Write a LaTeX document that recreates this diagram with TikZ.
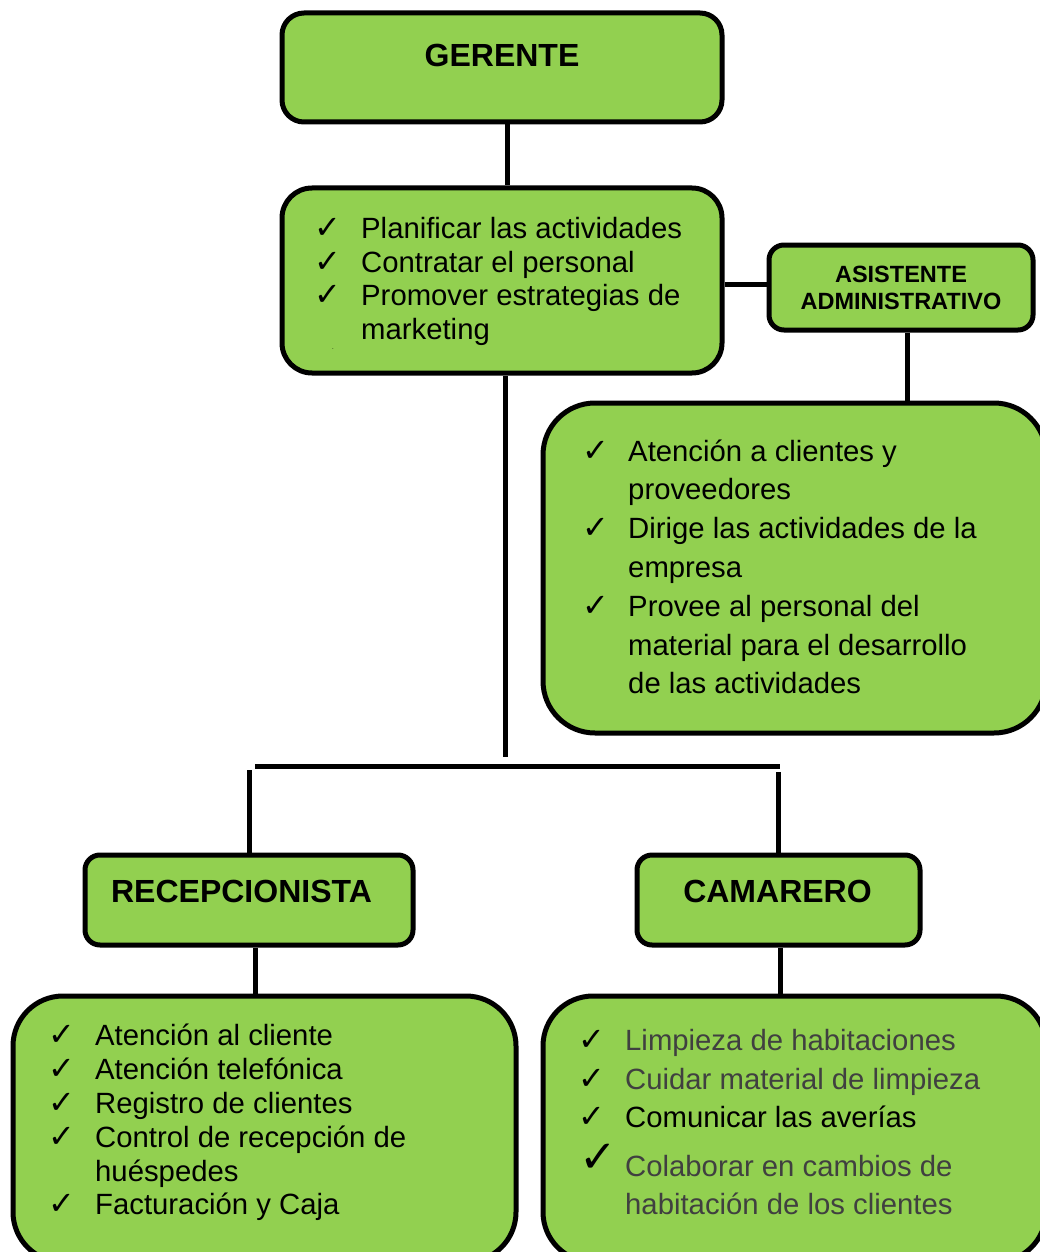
\documentclass[tikz,border=0pt]{standalone}
\usepackage{fontspec}
\setmainfont{Liberation Sans}
\newfontfamily\dejavu{DejaVu Sans}
\definecolor{boxgreen}{RGB}{146,208,80}
\definecolor{txtgray}{RGB}{64,64,64}
\begin{document}
\begin{tikzpicture}[x=1pt,y=-1pt,
  box/.style={draw=black, line width=5pt, fill=boxgreen, rectangle, inner sep=0pt},
  conn/.style={line width=5pt},
  title/.style={font=\fontsize{32}{34}\selectfont\bfseries, anchor=base, inner sep=0pt},
  small title/.style={font=\fontsize{23.5}{27}\selectfont\bfseries, anchor=base, inner sep=0pt},
  item/.style={font=\fontsize{29.3}{34}\selectfont, anchor=base west, inner sep=0pt},
  chk/.style={font=\dejavu\fontsize{32}{34}\selectfont, anchor=base west, inner sep=0pt},
  bigchk/.style={font=\dejavu\fontsize{45}{47}\selectfont, anchor=base west, inner sep=0pt}]
\useasboundingbox (0,0) rectangle (1040,1252);
\clip (0,0) rectangle (1040,1252);

% boxes
\node[box, rounded corners=22pt, minimum width=440pt, minimum height=109pt] (ger) at (502,67.5) {};
\node[box, rounded corners=30pt, minimum width=440pt, minimum height=185pt] (mid) at (502,280.5) {};
\node[box, rounded corners=15pt, minimum width=264pt, minimum height=85pt] (asis) at (901,287.5) {};
\node[box, rounded corners=52pt, minimum width=503pt, minimum height=330pt] (asisd) at (794.5,568) {};
\node[box, rounded corners=15pt, minimum width=328pt, minimum height=90pt] (recep) at (249,900) {};
\node[box, rounded corners=15pt, minimum width=283pt, minimum height=90pt] (cam) at (778.5,900) {};
\node[box, rounded corners=50pt, minimum width=503pt, minimum height=266pt] (recd) at (264.5,1129) {};
\node[box, rounded corners=50pt, minimum width=503pt, minimum height=266pt] (camd) at (794.5,1129) {};

% connectors
\coordinate (mbot) at (505,757);
\coordinate (hl) at (255,766);
\coordinate (hr) at (780,766);
\coordinate (vl) at (249,770);
\coordinate (vr) at (778.5,772);
\draw[conn] ([xshift=5pt]ger.south) -- ([xshift=5pt]mid.north);
\draw[conn] (mid.east |- 0,284) -- (asis.west |- 0,284);
\draw[conn] ([xshift=6pt]asis.south) -- ([xshift=6pt]asis.south |- asisd.north);
\draw[conn] ([xshift=3pt]mid.south) -- (mbot);
\draw[conn] (hl) -- (hr);
\draw[conn] (vl) -- (recep.north);
\draw[conn] (vr) -- (cam.north);
\draw[conn] ([xshift=6pt]recep.south) -- ([xshift=6pt]recep.south |- recd.north);
\draw[conn] ([xshift=1.5pt]cam.south) -- ([xshift=1.5pt]cam.south |- camd.north);

% titles
\node[title] (tger) at (502,67) {GERENTE};
\node[title] (trec) at (241.5,902) {RECEPCIONISTA};
\node[title] (tcam) at (777.5,902) {CAMARERO};
\node[small title] (tas1) at (901,282) {ASISTENTE};
\node[small title] (tas2) at (901,309) {ADMINISTRATIVO};

% gerente duties
\node[chk] (c11) at (314,238) {✓};
\node[chk] (c12) at (314,272) {✓};
\node[chk] (c13) at (314,305) {✓};
\node[item] (g1) at (361,238) {Planificar las actividades};
\node[item] (g2) at (361,272) {Contratar el personal};
\node[item] (g3) at (361,305) {Promover estrategias de};
\node[item] (g4) at (361,339) {marketing};
\node[font=\fontsize{6}{6}\selectfont, inner sep=0pt] (dot) at (333,349) {.};

% asistente duties
\node[chk] (c21) at (582,461) {✓};
\node[chk] (c22) at (582,538) {✓};
\node[chk] (c23) at (582,616) {✓};
\node[item] (a1) at (628,461) {Atención a clientes y};
\node[item] (a2) at (628,499.5) {proveedores};
\node[item] (a3) at (628,538) {Dirige las actividades de la};
\node[item] (a4) at (628,577) {empresa};
\node[item] (a5) at (628,616) {Provee al personal del};
\node[item] (a6) at (628,655) {material para el desarrollo};
\node[item] (a7) at (628,693) {de las actividades};

% recepcionista duties
\node[chk] (c31) at (48,1045) {✓};
\node[chk] (c32) at (48,1079) {✓};
\node[chk] (c33) at (48,1113) {✓};
\node[chk] (c34) at (48,1147) {✓};
\node[chk] (c35) at (48,1214) {✓};
\node[item] (r1) at (95,1045) {Atención al cliente};
\node[item] (r2) at (95,1079) {Atención telefónica};
\node[item] (r3) at (95,1113) {Registro de clientes};
\node[item] (r4) at (95,1147) {Control de recepción de};
\node[item] (r5) at (95,1181) {huéspedes};
\node[item] (r6) at (95,1214) {Facturación y Caja};

% camarero duties
\node[chk] (c41) at (578,1050) {✓};
\node[chk] (c42) at (578,1089) {✓};
\node[chk] (c43) at (578,1127) {✓};
\node[bigchk] (c44) at (579,1172) {✓};
\node[item, text=txtgray] (k1) at (625,1050) {Limpieza de habitaciones};
\node[item, text=txtgray] (k2) at (625,1089) {Cuidar material de limpieza};
\node[item] (k3) at (625,1127) {Comunicar las averías};
\node[item, text=txtgray] (k4) at (625,1176) {Colaborar en cambios de};
\node[item, text=txtgray] (k5) at (625,1214) {habitación de los clientes};
\end{tikzpicture}
\end{document}
